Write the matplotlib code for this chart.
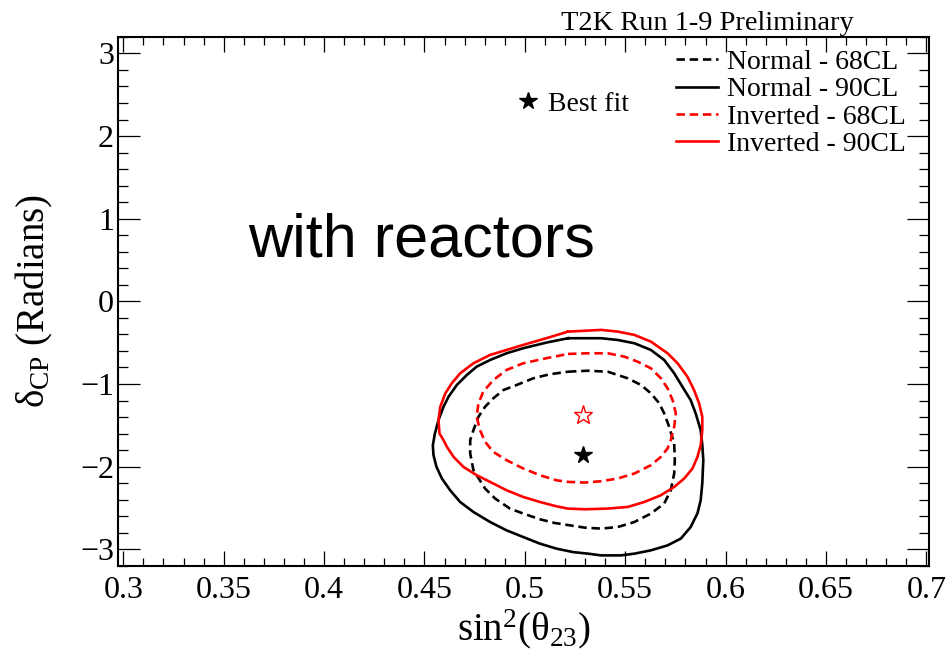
import numpy as np
import matplotlib
matplotlib.use("Agg")
import matplotlib.pyplot as plt
from matplotlib.ticker import MultipleLocator, FuncFormatter
from matplotlib.lines import Line2D

plt.rcParams['font.family'] = ['Liberation Serif', 'DejaVu Serif']
plt.rcParams['mathtext.fontset'] = 'custom'
plt.rcParams['mathtext.rm'] = 'Liberation Serif'
plt.rcParams['mathtext.it'] = 'Liberation Serif:italic'

# contour points, (sin^2 theta23, delta_CP), clockwise from the top
normal90_x = [0.5215, 0.5380, 0.5463, 0.5546, 0.5628, 0.5694, 0.5744, 0.5785, 0.5826, 0.5851, 0.5876,
              0.5884, 0.5889, 0.5884, 0.5876, 0.5860, 0.5826, 0.5777, 0.5711, 0.5628, 0.5546, 0.5479,
              0.5380, 0.5314, 0.5240, 0.5157, 0.5075, 0.4992, 0.4909, 0.4827, 0.4744, 0.4678, 0.4628,
              0.4587, 0.4560, 0.4545, 0.4542, 0.4552, 0.4570, 0.4595, 0.4620, 0.4661, 0.4711, 0.4760,
              0.4827, 0.4909, 0.4992, 0.5107]
normal90_y = [-0.446, -0.446, -0.467, -0.507, -0.588, -0.709, -0.870, -1.033, -1.194, -1.355, -1.558,
              -1.739, -1.921, -2.200, -2.406, -2.564, -2.730, -2.870, -2.952, -3.012, -3.052, -3.073,
              -3.073, -3.052, -3.033, -2.991, -2.931, -2.851, -2.770, -2.669, -2.548, -2.427, -2.285,
              -2.143, -2.002, -1.860, -1.740, -1.600, -1.436, -1.275, -1.154, -1.012, -0.891, -0.790,
              -0.709, -0.628, -0.567, -0.499]

normal68_x = [0.5215, 0.5314, 0.5413, 0.5513, 0.5579, 0.5628, 0.5670, 0.5694, 0.5719, 0.5744, 0.5747,
              0.5744, 0.5727, 0.5694, 0.5628, 0.5546, 0.5463, 0.5380, 0.5298, 0.5223, 0.5149, 0.5075,
              0.4992, 0.4926, 0.4852, 0.4802, 0.4744, 0.4728, 0.4728, 0.4744, 0.4769, 0.4802, 0.4843,
              0.4893, 0.4959, 0.5042, 0.5124]
normal68_y = [-0.851, -0.839, -0.851, -0.931, -1.012, -1.113, -1.234, -1.355, -1.518, -1.719, -1.921,
              -2.082, -2.285, -2.446, -2.567, -2.669, -2.730, -2.749, -2.737, -2.709, -2.681, -2.636,
              -2.567, -2.507, -2.385, -2.264, -2.042, -1.840, -1.679, -1.558, -1.396, -1.275, -1.173,
              -1.073, -1.012, -0.931, -0.882]

inverted90_x = [0.5215, 0.5380, 0.5463, 0.5546, 0.5628, 0.5711, 0.5761, 0.5810, 0.5843, 0.5868, 0.5884,
                0.5884, 0.5876, 0.5860, 0.5835, 0.5794, 0.5744, 0.5678, 0.5595, 0.5513, 0.5413, 0.5298,
                0.5215, 0.5157, 0.5075, 0.4992, 0.4909, 0.4827, 0.4760, 0.4694, 0.4645, 0.4612, 0.4595,
                0.4575, 0.4570, 0.4579, 0.4604, 0.4636, 0.4678, 0.4744, 0.4827, 0.4909, 0.4992, 0.5107]
inverted90_y = [-0.366, -0.345, -0.366, -0.406, -0.487, -0.628, -0.749, -0.912, -1.073, -1.234, -1.396,
                -1.558, -1.739, -1.881, -2.022, -2.143, -2.245, -2.345, -2.427, -2.487, -2.507, -2.515,
                -2.507, -2.479, -2.427, -2.366, -2.285, -2.184, -2.103, -2.002, -1.881, -1.760, -1.679,
                -1.598, -1.436, -1.275, -1.113, -0.992, -0.870, -0.749, -0.648, -0.588, -0.527, -0.446]

inverted68_x = [0.5215, 0.5314, 0.5413, 0.5496, 0.5562, 0.5628, 0.5678, 0.5711, 0.5736, 0.5752, 0.5744,
                0.5727, 0.5711, 0.5678, 0.5628, 0.5546, 0.5463, 0.5380, 0.5298, 0.5215, 0.5157, 0.5075,
                0.4992, 0.4909, 0.4843, 0.4802, 0.4777, 0.4760, 0.4769, 0.4793, 0.4843, 0.4909, 0.4992,
                0.5107]
inverted68_y = [-0.636, -0.628, -0.628, -0.669, -0.730, -0.810, -0.931, -1.052, -1.194, -1.355, -1.518,
                -1.679, -1.779, -1.881, -1.982, -2.082, -2.143, -2.176, -2.192, -2.184, -2.164, -2.103,
                -2.022, -1.921, -1.821, -1.699, -1.558, -1.396, -1.234, -1.093, -0.952, -0.830, -0.749,
                -0.688]

bestfit_normal = (0.529, -1.86)
bestfit_inverted = (0.529, -1.38)

labels = ['Normal - 68CL', 'Normal - 90CL', 'Inverted - 68CL', 'Inverted - 90CL']

fig = plt.figure(figsize=(9.46, 6.58), dpi=100)
ax = fig.add_axes([0.125, 0.140, 0.857, 0.804])

dash = (0, (3.2, 1.8))
lw = 1.9


def closed(xs, ys):
    return np.append(xs, xs[0]), np.append(ys, ys[0])


lines = []
for xs, ys, col, ls in [(normal68_x, normal68_y, 'black', dash),
                        (normal90_x, normal90_y, 'black', '-'),
                        (inverted68_x, inverted68_y, 'red', dash),
                        (inverted90_x, inverted90_y, 'red', '-')]:
    cx, cy = closed(xs, ys)
    l, = ax.plot(cx, cy, color=col, ls=ls, lw=lw, solid_joinstyle='round')
    lines.append(l)

ax.plot(*bestfit_normal, marker='*', color='black', ms=13, ls='none')
ax.plot(*bestfit_inverted, marker='*', mfc='none', mec='red', mew=1.0, ms=14, ls='none')

ax.set_xlim(0.2975, 0.7013)
ax.set_ylim(-3.2, 3.2)

ax.xaxis.set_major_locator(MultipleLocator(0.05))
ax.xaxis.set_minor_locator(MultipleLocator(0.01))
ax.yaxis.set_major_locator(MultipleLocator(1))
ax.yaxis.set_minor_locator(MultipleLocator(0.2))
fmt = FuncFormatter(lambda v, p: f'{v:g}'.replace('-', '\u2212'))
ax.xaxis.set_major_formatter(fmt)
ax.yaxis.set_major_formatter(fmt)

ax.tick_params(axis='both', which='both', direction='in', top=True, right=True, width=0.9)
ax.tick_params(axis='x', which='major', length=11, labelsize=23, pad=7)
ax.tick_params(axis='x', which='minor', length=6)
ax.tick_params(axis='y', which='major', length=16, labelsize=23, pad=3)
ax.tick_params(axis='y', which='minor', length=7)
for s in ax.spines.values():
    s.set_linewidth(1.5)

ax.set_xlabel('sin$^{2}$(θ$_{23}$)', fontsize=28, labelpad=2)
ax.set_ylabel('δ$_{\\mathrm{CP}}$ (Radians)', fontsize=28, labelpad=18)

leg = ax.legend(lines, labels, loc='upper right', bbox_to_anchor=(0.971, 0.976), frameon=False,
                fontsize=20, handlelength=1.5, handletextpad=0.32, labelspacing=0.07,
                borderpad=0, borderaxespad=0)
ax.add_artist(leg)

star_handle = Line2D([], [], marker='*', color='black', ms=13, ls='none')
ax.legend([star_handle], ['Best fit'], loc='center left', bbox_to_anchor=(0.488, 0.873), frameon=False,
          fontsize=20, handlelength=1.0, handletextpad=0.22, borderpad=0, borderaxespad=0)

ax.text(0.3623, 0.54, 'with reactors', fontsize=44, family='Liberation Sans', va='baseline', ha='left')
fig.text(0.902, 0.954, 'T2K Run 1-9 Preliminary', fontsize=20.5, ha='right', va='baseline')

fig.savefig('out.png', dpi=100)
